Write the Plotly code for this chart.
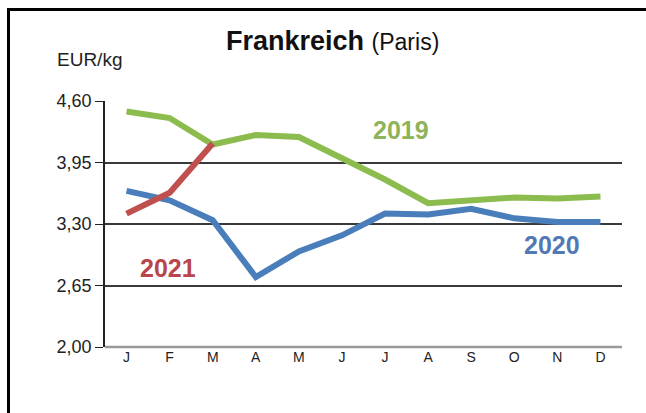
import plotly.graph_objects as go

months = ["J", "F", "M", "A", "M ", "J ", "J  ", "A ", "S", "O", "N", "D"]
month_labels = ["J", "F", "M", "A", "M", "J", "J", "A", "S", "O", "N", "D"]
y2019 = [4.49, 4.42, 4.14, 4.24, 4.22, 4.00, 3.77, 3.52, 3.55, 3.58, 3.57, 3.59]
y2020 = [3.65, 3.55, 3.34, 2.74, 3.01, 3.18, 3.41, 3.40, 3.46, 3.36, 3.32, 3.32]
y2021 = [3.41, 3.63, 4.15]
yticks = [2.00, 2.65, 3.30, 3.95, 4.60]
ytick_text = ["2,00", "2,65", "3,30", "3,95", "4,60"]

GREEN = "#8cbb4e"
BLUE = "#4a7ebb"
RED = "#c0504d"
FONT = "Liberation Sans, Arial, sans-serif"

fig = go.Figure()
fig.add_trace(go.Scatter(x=months, y=y2019, mode="lines", line=dict(color=GREEN, width=6), name="2019"))
fig.add_trace(go.Scatter(x=months, y=y2020, mode="lines", line=dict(color=BLUE, width=6), name="2020"))
fig.add_trace(go.Scatter(x=months[:len(y2021)], y=y2021, mode="lines", line=dict(color=RED, width=6), name="2021"))

L, R, T, B = 105, 24, 101, 66
W, H = 646, 413
pw, ph = W - L - R, H - T - B

def px_x(x):
    return (x - L) / pw

def px_y(y):
    return 1 - (y - T) / ph

fig.update_layout(
    width=W, height=H,
    margin=dict(l=L, r=R, t=T, b=B),
    paper_bgcolor="white", plot_bgcolor="white",
    showlegend=False,
    font=dict(family=FONT, color="#222222"),
    xaxis=dict(
        type="category", tickmode="array", tickvals=months, ticktext=month_labels,
        showgrid=False, ticks="", showline=False, zeroline=False,
        tickfont=dict(size=14, color="#222222"), range=[-0.5, 11.5],
    ),
    yaxis=dict(
        range=[2.0, 4.6], tickmode="array", tickvals=yticks, ticktext=ytick_text,
        showgrid=True, gridcolor="#3a3a3a", gridwidth=1.5,
        showline=True, linecolor="#222222", linewidth=1.5,
        ticks="outside", ticklen=8, tickcolor="#222222",
        tickfont=dict(size=18, color="#222222"), zeroline=False,
    ),
    shapes=[
        dict(type="line", xref="paper", yref="paper", x0=0, x1=1, y0=0, y1=0,
             line=dict(color="#9a9a9a", width=2.5)),
        dict(type="line", xref="paper", yref="paper", x0=px_x(8.5), x1=px_x(8.5), y0=px_y(8), y1=px_y(420),
             line=dict(color="black", width=3)),
        dict(type="line", xref="paper", yref="paper", x0=px_x(7), x1=px_x(650), y0=px_y(9.5), y1=px_y(9.5),
             line=dict(color="black", width=3)),
    ],
    annotations=[
        dict(xref="paper", yref="paper", x=px_x(332), y=px_y(41), xanchor="center", yanchor="middle",
             showarrow=False, text="<b>Frankreich</b> <span style='font-size:23px'>(Paris)</span>",
             font=dict(size=27, color="#111111")),
        dict(xref="paper", yref="paper", x=px_x(55), y=px_y(59), xanchor="left", yanchor="middle",
             showarrow=False, text="EUR/kg", font=dict(size=19, color="#222222")),
        dict(xref="paper", yref="paper", x=px_x(401), y=px_y(130), xanchor="center", yanchor="middle",
             showarrow=False, text="<b>2019</b>", font=dict(size=25, color="#8fb35a")),
        dict(xref="paper", yref="paper", x=px_x(552), y=px_y(245), xanchor="center", yanchor="middle",
             showarrow=False, text="<b>2020</b>", font=dict(size=25, color="#5279b5")),
        dict(xref="paper", yref="paper", x=px_x(168), y=px_y(268), xanchor="center", yanchor="middle",
             showarrow=False, text="<b>2021</b>", font=dict(size=25, color="#b9464b")),
    ],
)

fig.write_html("out.html", config={"displayModeBar": False},
               post_script="document.body.style.margin='0';document.body.style.overflow='hidden';")
